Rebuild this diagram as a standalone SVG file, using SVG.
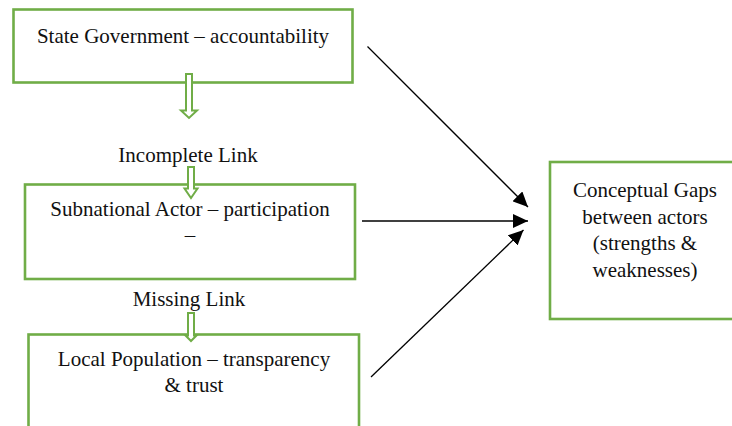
<svg xmlns="http://www.w3.org/2000/svg" width="732" height="426" viewBox="0 0 732 426">
  <style>
    .box { fill: #ffffff; stroke: #70AD47; stroke-width: 2.6; }
    .down { fill: #ffffff; stroke: #70AD47; stroke-width: 2; stroke-linejoin: miter; }
    .label { font-family: "Liberation Serif", "Times New Roman", serif; font-size: 21px; fill: #111111; text-anchor: middle; }
    .conn { stroke: #000000; stroke-width: 1.3; fill: none; marker-end: url(#head); }
  </style>
  <defs>
    <marker id="head" markerUnits="userSpaceOnUse" markerWidth="16" markerHeight="14" refX="15" refY="7" orient="auto">
      <path d="M0,0 L15,7 L0,14 Z" fill="#000000"/>
    </marker>
  </defs>

  <rect width="732" height="426" fill="#ffffff"/>

  <g id="state-government">
    <rect class="box" x="13.5" y="9.5" width="339" height="73"/>
    <text class="label" x="183" y="42.5">State Government – accountability</text>
  </g>

  <g id="subnational-actor">
    <rect class="box" x="25" y="184.5" width="330" height="94.5"/>
    <text class="label" x="190" y="216">Subnational Actor – participation</text>
    <text class="label" x="190" y="242">–</text>
  </g>

  <g id="local-population">
    <rect class="box" x="28.5" y="334.5" width="330.5" height="110"/>
    <text class="label" x="194" y="366">Local Population – transparency</text>
    <text class="label" x="194" y="392">&amp; trust</text>
  </g>

  <g id="conceptual-gaps">
    <rect class="box" x="550" y="162" width="200" height="157"/>
    <text class="label" x="645" y="197">Conceptual Gaps</text>
    <text class="label" x="645" y="223.5">between actors</text>
    <text class="label" x="645" y="250">(strengths &amp;</text>
    <text class="label" x="645" y="276.5">weaknesses)</text>
  </g>

  <g id="links">
    <text class="label" x="188" y="162">Incomplete Link</text>
    <text class="label" x="189" y="306">Missing Link</text>
  </g>

  <g id="connectors">
    <!-- hollow block arrows down the actor chain -->
    <polygon class="down" points="186,74 192,74 192,110.5 197,110.5 189,118 181,110.5 186,110.5"/>
    <polygon class="down" points="188,167 194,167 194,188.5 197.5,188.5 191,198 184.5,188.5 188,188.5"/>
    <polygon class="down" points="188,313 194,313 194,335.5 196.5,335.5 191,341 185.5,335.5 188,335.5"/>
    <!-- arrows into the gaps box -->
    <line class="conn" x1="367.5" y1="46.5" x2="528" y2="207"/>
    <line class="conn" x1="362" y1="221" x2="528" y2="221"/>
    <line class="conn" x1="371" y1="377" x2="523.5" y2="230"/>
  </g>
</svg>
